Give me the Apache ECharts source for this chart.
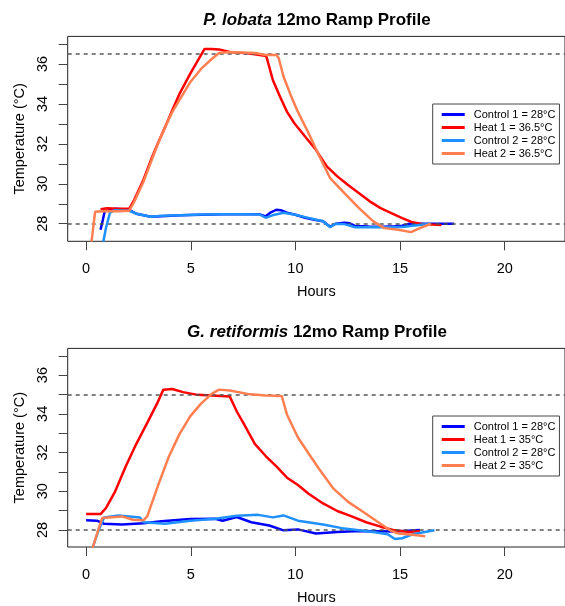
<!DOCTYPE html>
<html>
<head>
<meta charset="utf-8">
<script src="https://cdn.jsdelivr.net/npm/echarts@6/dist/echarts.min.js"></script>
<style>html,body{margin:0;padding:0;background:#fff;}#chart{width:565px;height:606px;}</style>
</head>
<body>
<div id="chart"></div>
<script>
// ---- axis ticks ----
const hourTicks = [0, 5, 10, 15, 20];
const tempTicks = [28, 29, 30, 31, 32, 33, 34, 35, 36, 37];
const tempLabels = [28, 30, 32, 34, 36];

// ---- titles / names ----
const topSpecies = 'P. lobata';
const botSpecies = 'G. retiformis';
const titleRest = '12mo Ramp Profile';
const topNames = ['Control 1 = 28°C', 'Heat 1 = 36.5°C', 'Control 2 = 28°C', 'Heat 2 = 36.5°C'];
const botNames = ['Control 1 = 28°C', 'Heat 1 = 35°C', 'Control 2 = 28°C', 'Heat 2 = 35°C'];
const topTargets = [28, 36.5];
const botTargets = [28, 35];

// ---- top chart (P. lobata) ----
const topC1H = [0.69, 0.8, 0.89, 1.1, 1.4, 2.06, 2.4, 3.09, 3.6, 4.5, 5.5, 6.5, 7.5, 8.3, 8.58, 8.8, 9.09, 9.3, 9.6, 10.0, 10.46, 10.9, 11.32, 11.66, 11.92, 12.34, 12.6, 12.86, 13.5, 14.2, 14.75, 15.1, 15.44, 16.0, 16.8, 17.58];
const topC1T = [27.7, 28.2, 28.62, 28.68, 28.75, 28.7, 28.5, 28.35, 28.38, 28.42, 28.45, 28.47, 28.48, 28.47, 28.37, 28.55, 28.7, 28.68, 28.55, 28.45, 28.3, 28.2, 28.12, 27.85, 28.0, 28.05, 28.02, 27.88, 27.86, 27.85, 27.87, 27.9, 28.0, 28.0, 28.0, 28.0];
const topH1H = [0.69, 1.0, 1.5, 2.06, 2.3, 2.74, 3.1, 3.43, 3.8, 4.12, 4.46, 4.97, 5.3, 5.66, 6.0, 6.35, 6.86, 7.72, 8.3, 8.6, 8.66, 8.92, 9.26, 9.6, 9.95, 10.46, 10.98, 11.5, 12.0, 12.5, 13.04, 13.55, 14.07, 14.58, 15.1, 15.6, 16.1, 16.98];
const topH1T = [28.72, 28.78, 28.75, 28.75, 29.2, 30.2, 31.2, 32.03, 32.9, 33.7, 34.5, 35.5, 36.1, 36.75, 36.75, 36.73, 36.6, 36.53, 36.45, 36.4, 36.2, 35.2, 34.37, 33.6, 33.03, 32.37, 31.7, 30.87, 30.37, 29.95, 29.53, 29.12, 28.78, 28.53, 28.28, 28.07, 27.98, 27.93];
const topC2H = [0.82, 0.95, 1.14, 1.34, 2.06, 2.4, 3.09, 3.6, 4.5, 5.5, 6.5, 7.5, 8.3, 8.58, 8.9, 9.43, 10.0, 10.46, 10.9, 11.32, 11.66, 11.92, 12.34, 12.86, 13.5, 14.2, 14.75, 15.2, 15.6, 16.47];
const topC2T = [27.1, 27.8, 28.55, 28.67, 28.65, 28.5, 28.35, 28.4, 28.43, 28.46, 28.48, 28.48, 28.46, 28.3, 28.42, 28.55, 28.45, 28.33, 28.22, 28.12, 27.82, 28.0, 27.98, 27.82, 27.82, 27.82, 27.82, 27.85, 27.9, 28.0];
const topH2H = [0.26, 0.35, 0.43, 0.8, 1.5, 2.06, 2.3, 2.74, 3.1, 3.43, 3.8, 4.12, 4.46, 4.97, 5.49, 6.0, 6.35, 6.86, 7.4, 8.06, 8.58, 9.09, 9.2, 9.43, 9.77, 10.12, 10.63, 11.15, 11.66, 12.34, 13.04, 13.72, 14.24, 14.92, 15.52, 15.95, 16.47];
const topH2T = [27.1, 27.9, 28.6, 28.62, 28.62, 28.65, 29.1, 30.1, 31.1, 32.0, 32.9, 33.6, 34.2, 35.08, 35.75, 36.25, 36.55, 36.6, 36.58, 36.55, 36.45, 36.45, 36.3, 35.37, 34.45, 33.6, 32.53, 31.37, 30.28, 29.53, 28.78, 28.12, 27.78, 27.7, 27.58, 27.78, 28.0];

// ---- bottom chart (G. retiformis) ----
const botC1H = [0, 0.51, 0.86, 1.72, 2.74, 3.6, 4.97, 6.17, 6.52, 7.2, 7.89, 8.75, 9.43, 10.12, 10.98, 12.0, 13.04, 14.75, 15.95];
const botC1T = [28.5, 28.48, 28.32, 28.28, 28.35, 28.45, 28.57, 28.58, 28.48, 28.67, 28.4, 28.23, 27.98, 28.03, 27.82, 27.9, 27.95, 27.92, 28.0];
const botH1H = [0, 0.69, 0.94, 1.37, 1.89, 2.4, 2.92, 3.43, 3.69, 4.12, 4.63, 5.32, 6.0, 6.86, 7.2, 7.55, 8.06, 8.58, 9.09, 9.6, 10.12, 10.63, 11.32, 12.0, 12.69, 13.38, 14.07, 14.75, 15.45, 15.95];
const botH1T = [28.83, 28.82, 29.12, 29.95, 31.28, 32.45, 33.53, 34.62, 35.25, 35.28, 35.12, 34.98, 34.95, 34.9, 34.12, 33.45, 32.45, 31.82, 31.28, 30.7, 30.32, 29.87, 29.37, 28.98, 28.7, 28.4, 28.17, 27.98, 27.9, 27.95];
const botC2H = [0.31, 0.6, 0.86, 1.54, 2.57, 2.74, 3.77, 4.97, 6.17, 7.2, 8.23, 8.92, 9.43, 10.12, 11.32, 12.34, 13.72, 14.41, 14.75, 15.1, 15.6, 16.64];
const botC2T = [27.08, 28.0, 28.65, 28.75, 28.65, 28.4, 28.32, 28.48, 28.58, 28.73, 28.78, 28.65, 28.75, 28.48, 28.28, 28.07, 27.9, 27.78, 27.53, 27.57, 27.78, 27.98];
const botH2H = [0.31, 0.55, 0.77, 1.72, 2.23, 2.74, 2.92, 3.43, 3.95, 4.46, 4.97, 5.49, 6.0, 6.35, 6.86, 7.72, 8.58, 9.35, 9.6, 10.12, 10.63, 11.15, 11.83, 12.52, 13.21, 13.89, 14.58, 14.92, 15.6, 16.2];
const botH2T = [27.08, 27.9, 28.62, 28.7, 28.53, 28.5, 28.7, 30.28, 31.78, 32.95, 33.87, 34.53, 35.03, 35.25, 35.2, 35.03, 34.95, 34.92, 33.95, 32.78, 31.95, 31.12, 30.12, 29.45, 28.95, 28.45, 27.95, 27.82, 27.75, 27.67];

const colors = ['#0000FF', '#FF0000', '#1E90FF', '#FF7F50'];
const FONT = 'Liberation Sans, Arial, Helvetica, sans-serif';

const zip = (h, t) => h.map((v, i) => [v, t[i]]);

function makeSeries(names, sets, idx, targets) {
  return sets.map((s, k) => {
    const o = {
      name: names[k], type: 'line', xAxisIndex: idx, yAxisIndex: idx,
      data: zip(s[0], s[1]), showSymbol: false, symbol: 'none',
      lineStyle: { color: colors[k], width: 2.5 }, itemStyle: { color: colors[k] },
      z: 3 + k, animation: false
    };
    if (k === 0) {
      o.markLine = {
        silent: true, symbol: 'none', animation: false,
        label: { show: false },
        lineStyle: { color: '#555', type: [4, 4], width: 1.5 },
        data: targets.map(v => ({ yAxis: v }))
      };
    }
    return o;
  });
}

const gridTops = [36.4, 348.4];
const common = { left: 67.7, width: 499.3, height: 204.9 };

function xAx(i) {
  return {
    type: 'value', gridIndex: i, min: -0.88, max: 22.88,
    axisLine: { show: false, onZero: false },
    axisTick: { show: true, length: 9, customValues: hourTicks, lineStyle: { color: '#444', width: 1 } },
    axisLabel: { customValues: hourTicks, margin: 20, fontSize: 14.5, color: '#000', fontFamily: FONT },
    splitLine: { show: false },
    name: 'Hours', nameLocation: 'middle', nameGap: 43,
    nameTextStyle: { fontSize: 14.5, color: '#000', fontFamily: FONT }
  };
}
function yAx(i) {
  return {
    type: 'value', gridIndex: i, min: 27.12, max: 37.38,
    axisLine: { show: false, onZero: false },
    axisTick: { show: true, length: 9, customValues: tempTicks, lineStyle: { color: '#444', width: 1 } },
    axisLabel: { customValues: tempLabels, rotate: 90, margin: 17, fontSize: 14.5, color: '#000', fontFamily: FONT },
    splitLine: { show: false },
    name: 'Temperature (°C)', nameLocation: 'middle', nameRotate: 90, nameGap: 40,
    nameTextStyle: { fontSize: 14.5, color: '#000', fontFamily: FONT }
  };
}
function legendFor(names, top) {
  return {
    data: names, orient: 'vertical', left: 432.7, top: top,
    icon: 'rect', itemWidth: 23, itemHeight: 3, itemGap: 0,
    padding: [4, 4, 4, 9], borderColor: '#444', borderWidth: 1, backgroundColor: '#fff',
    textStyle: { fontSize: 11, color: '#000', fontFamily: FONT, lineHeight: 13, padding: [0, 0, 0, 4] },
    selectedMode: false
  };
}
function titleFor(species, top) {
  return {
    text: '{i|' + species + '} ' + titleRest, left: 317, top: top, textAlign: 'center', padding: 0,
    textStyle: {
      fontSize: 17, fontWeight: 'bold', color: '#000', fontFamily: FONT,
      rich: { i: { fontStyle: 'italic', fontWeight: 'bold', fontSize: 17, color: '#000', fontFamily: FONT } }
    }
  };
}

const option = {
  backgroundColor: '#fff',
  animation: false,
  title: [titleFor(topSpecies, 11.5), titleFor(botSpecies, 323.5)],
  legend: [legendFor(topNames, 104), legendFor(botNames, 416)],
  grid: gridTops.map(t => Object.assign({ top: t, show: true, borderColor: '#222', borderWidth: 1, backgroundColor: 'transparent' }, common)),
  xAxis: [xAx(0), xAx(1)],
  yAxis: [yAx(0), yAx(1)],
  series: [].concat(
    makeSeries(topNames, [[topC1H, topC1T], [topH1H, topH1T], [topC2H, topC2T], [topH2H, topH2T]], 0, topTargets),
    makeSeries(botNames, [[botC1H, botC1T], [botH1H, botH1T], [botC2H, botC2T], [botH2H, botH2T]], 1, botTargets)
  )
};

const chart = echarts.init(document.getElementById('chart'), null, { renderer: 'canvas' });
chart.setOption(option);
</script>
</body>
</html>
